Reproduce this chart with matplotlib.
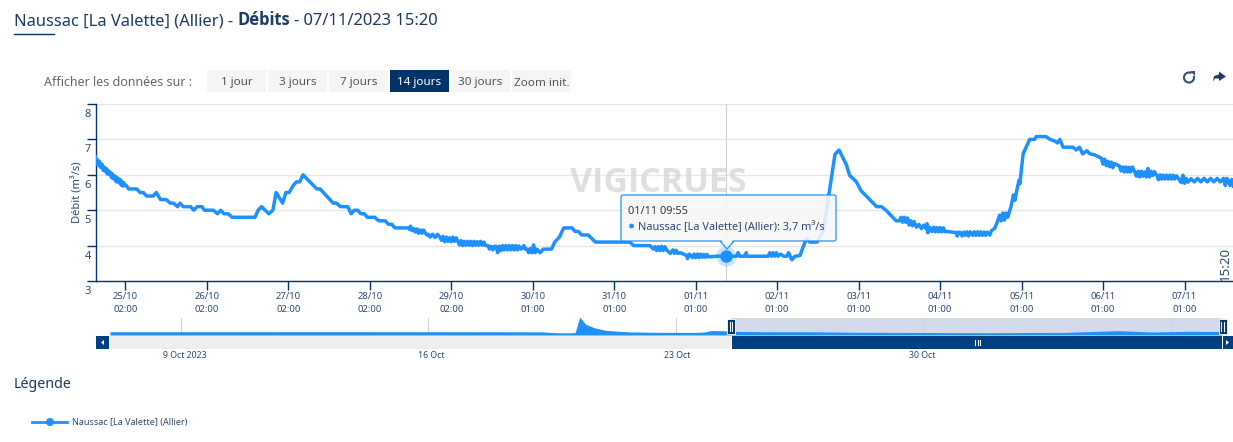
import matplotlib
matplotlib.use("Agg")
import matplotlib.pyplot as plt
from matplotlib.patches import Rectangle, FancyBboxPatch, Polygon, Circle, Arc
import matplotlib.transforms as mtrans

W, H = 1233, 442
NAVY = "#003366"
BLUE = "#1e90ff"
TXT = "#2c4a73"
BOLD = ["Open Sans", "Liberation Sans", "DejaVu Sans"]
plt.rcParams["font.family"] = ["Noto Sans", "DejaVu Sans"]

# Series: (days since 25/10 02:00, flow m3/s)
seg_recession_1 = [(-0.367,6.5),(-0.352,6.3),(-0.34,6.42),(-0.33,6.28),(-0.32,6.38),(-0.31,6.22),(-0.30,6.32),(-0.29,6.2),(-0.28,6.28),(-0.27,6.12),
    (-0.25,6.2),(-0.24,6.08),(-0.23,6.17),(-0.22,6.02),(-0.20,6.1),(-0.19,6.0),(-0.18,6.06),(-0.17,5.92),(-0.16,6.02),(-0.15,5.9),(-0.14,5.98),
    (-0.13,5.86),(-0.12,5.95),(-0.11,5.8),(-0.10,5.92),(-0.09,5.8),(-0.08,5.88),(-0.07,5.76),(-0.06,5.86),(-0.05,5.7),(-0.04,5.8),(-0.03,5.68),
    (-0.02,5.78),(-0.01,5.7),(0.01,5.7),(0.04,5.6),(0.14,5.6),(0.18,5.5),(0.22,5.5),(0.26,5.4),(0.34,5.4),(0.38,5.5),(0.43,5.3),(0.50,5.3),
    (0.55,5.2),(0.59,5.2),(0.64,5.1),(0.67,5.2),(0.71,5.1),(0.80,5.1),(0.84,5.0),(0.88,5.1),(0.94,5.1),(0.97,5.0),(1.08,5.0),(1.13,4.9),
    (1.17,5.0),(1.21,4.9),(1.26,4.9),(1.31,4.8),(1.59,4.8)]
seg_bump_27 = [(1.63,5.0),(1.67,5.1),(1.76,4.9),(1.81,5.0),(1.85,5.5),(1.93,5.2),(1.97,5.5),(2.01,5.5),(2.06,5.7),(2.10,5.8),(2.14,5.8),(2.18,6.0),
    (2.35,5.6),(2.39,5.6),(2.55,5.2),(2.59,5.2),(2.64,5.1),(2.73,5.1),(2.77,4.9),(2.81,5.0),(2.85,5.0),(2.89,4.9),(2.93,4.9),(2.97,4.8),
    (3.06,4.8),(3.11,4.7),(3.19,4.7),(3.23,4.6),(3.27,4.6),(3.31,4.5),(3.47,4.5),(3.49,4.45),(3.50,4.55),(3.52,4.42),(3.54,4.48)]
seg_jitter_28 = [(3.56,4.38),(3.58,4.47),(3.60,4.35),(3.62,4.44),(3.64,4.35),(3.66,4.44),(3.68,4.36),(3.70,4.3),(3.72,4.32),(3.74,4.24),(3.77,4.32),
    (3.80,4.23),(3.83,4.32),(3.86,4.24),(3.88,4.15),(3.90,4.26),(3.92,4.11),(3.94,4.24),(3.96,4.12),(3.98,4.22),(4.00,4.11),(4.02,4.24),(4.04,4.12),
    (4.06,4.22),(4.08,4.12),(4.10,4.02),(4.12,4.14),(4.14,4.0),(4.16,4.12),(4.18,4.01),(4.20,4.12),(4.22,4.01),(4.24,4.12),(4.26,4.0),(4.28,4.12),
    (4.30,4.01),(4.32,4.11),(4.34,4.01),(4.36,4.12),(4.38,4.01),(4.40,4.1),(4.42,4.0),(4.45,4.0),(4.47,3.9),(4.49,3.98),(4.51,3.88),(4.53,3.98),
    (4.55,3.98),(4.57,3.8),(4.59,3.98),(4.61,3.86),(4.63,4.0),(4.65,3.88),(4.67,4.0),(4.69,3.88),(4.71,4.0),(4.73,3.88),(4.75,4.0),(4.77,3.88),
    (4.79,4.0),(4.81,3.88),(4.83,3.99),(4.85,3.9),(4.87,3.92),(4.89,4.0),(4.91,3.9),(4.93,3.9),(4.95,3.8),(4.97,3.92),(4.99,3.8),(5.01,4.02),
    (5.03,3.8),(5.05,3.9),(5.09,3.8),(5.13,3.9),(5.23,3.9)]
seg_bump_30 = [(5.27,4.1),(5.33,4.25),(5.38,4.5),(5.48,4.5),(5.52,4.4),(5.56,4.4),(5.60,4.3),(5.68,4.3),(5.77,4.1),(6.19,4.1),(6.24,4.0),(6.44,4.0),
    (6.48,3.9),(6.50,3.97),(6.52,3.86),(6.54,3.97),(6.56,3.86),(6.58,3.98),(6.60,3.86),(6.62,3.97),(6.64,3.88),(6.69,3.78),(6.72,3.88),(6.74,3.78),
    (6.76,3.87),(6.78,3.78),(6.81,3.8),(6.89,3.72),(6.90,3.63),(6.92,3.76),(6.94,3.72),(6.96,3.66),(6.98,3.76),(7.0,3.66),(7.02,3.76),(7.04,3.66),
    (7.06,3.76),(7.08,3.67),(7.10,3.75),(7.12,3.67),(7.14,3.75),(7.16,3.68),(7.26,3.7),(7.371,3.7)]
seg_low_nov = [(7.50,3.7),(7.52,3.8),(7.54,3.7),(7.60,3.7),(7.62,3.8),(7.63,3.7),(7.89,3.7),(7.91,3.8),(7.93,3.7),(7.95,3.8),(7.97,3.7),(7.99,3.8),
    (8.01,3.7),(8.04,3.76),(8.08,3.7),(8.12,3.7),(8.14,3.8),(8.18,3.6),(8.22,3.7),(8.28,3.72),(8.32,3.97),(8.36,4.2),(8.40,4.1),(8.49,4.1),
    (8.57,4.43),(8.63,5.37),(8.71,6.58),(8.76,6.7),(8.85,6.28),(8.89,5.98),(8.97,5.81),(9.03,5.55),(9.22,5.1),(9.28,5.1),(9.34,4.99),(9.46,4.7),
    (9.50,4.7),(9.52,4.8),(9.54,4.66),(9.56,4.8),(9.58,4.66),(9.60,4.78)]
seg_plateau_04 = [(9.62,4.58),(9.64,4.7),(9.66,4.56),(9.68,4.68),(9.71,4.52),(9.74,4.6),(9.77,4.48),(9.80,4.58),(9.83,4.47),(9.84,4.62),(9.85,4.36),
    (9.87,4.52),(9.90,4.4),(9.92,4.52),(9.94,4.39),(9.96,4.51),(9.98,4.39),(10.0,4.51),(10.02,4.39),(10.04,4.5),(10.06,4.39),(10.08,4.4),
    (10.15,4.38),(10.20,4.37),(10.21,4.27),(10.23,4.38),(10.25,4.37),(10.27,4.27),(10.29,4.38),(10.31,4.29),(10.33,4.39),(10.35,4.27),(10.37,4.39),
    (10.40,4.29),(10.42,4.39),(10.44,4.29),(10.46,4.39),(10.48,4.29),(10.50,4.39),(10.52,4.29),(10.54,4.38),(10.56,4.29),(10.58,4.38),(10.61,4.3)]
seg_rise_05 = [(10.63,4.42),(10.67,4.49),(10.70,4.65),(10.73,4.86),(10.75,4.7),(10.77,4.92),(10.79,4.72),(10.81,4.92),(10.83,4.8),(10.87,5.1),(10.90,5.43),
    (10.92,5.28),(10.94,5.55),(10.97,5.85),(10.98,5.75),(11.0,6.2),(11.02,6.6),(11.10,7.0),(11.16,7.0),(11.18,7.08),(11.30,7.08),(11.35,7.0),
    (11.41,6.95),(11.44,6.9),(11.47,7.0),(11.51,6.78),(11.63,6.78),(11.67,6.7),(11.71,6.78),(11.75,6.59),(11.80,6.68),(11.84,6.59),(11.90,6.56),
    (11.98,6.47),(12.0,6.3),(12.02,6.44),(12.04,6.26),(12.06,6.38),(12.08,6.23),(12.10,6.36),(12.12,6.2),(12.14,6.32),(12.2,6.25)]
seg_tail = [(12.22,6.11),(12.24,6.22),(12.26,6.08),(12.28,6.22),(12.30,6.08),(12.32,6.21),(12.34,6.08),(12.36,6.22),(12.39,6.08),(12.41,5.96),(12.43,6.1),
    (12.45,5.94),(12.47,6.1),(12.49,5.96),(12.51,6.08),(12.53,5.94),(12.55,6.18),(12.57,5.94),(12.59,6.1),(12.61,5.98),(12.63,6.09),(12.66,5.98),
    (12.68,5.86),(12.70,6.0),(12.72,5.88),(12.74,5.99),(12.76,5.88),(12.78,5.99),(12.80,5.88),(12.82,5.99),(12.84,5.88),(12.86,5.99),(12.88,5.88),
    (12.90,5.97),(12.93,5.88),(12.96,5.78),(12.98,5.99),(13.0,5.76),(13.02,5.9),(13.04,5.79),(13.08,5.89),(13.12,5.8),(13.16,5.9),(13.20,5.8),
    (13.24,5.9),(13.28,5.8),(13.32,5.9),(13.36,5.8),(13.40,5.9),(13.44,5.8),(13.48,5.9),(13.50,5.7),(13.52,5.9),(13.54,5.82),(13.56,5.7),(13.58,5.87),(13.60,5.68)]

tick_days = list(range(14))
tick_dates = ["25/10","26/10","27/10","28/10","29/10","30/10","31/10","01/11","02/11","03/11","04/11","05/11","06/11","07/11"]
tick_hours = ["02:00"]*5 + ["01:00"]*9
y_ticks = [3,4,5,6,7,8]

hover_t = 7.371
hover_v = 3.7

# Navigator: (days since 9 Oct, flow m3/s)
nav_series = [(-2.0,5.5),(4,5.6),(8,5.5),(10.2,5.3),(10.6,3.8),(11.0,3.6),(11.15,4),(11.28,30),(11.45,18),(11.7,12),(12.0,8),(12.3,6.5),(12.7,5.2),
    (13.5,4.5),(14.5,4.3),(14.8,5),(15.0,7.5),(15.4,7),(15.8,6),(16.5,5.5),(18,5.3),(19,4.6),(20.5,4.3),(22.5,3.8),(23.2,3.9),(24,4.2),(25,4.4),
    (26.5,7.2),(27.5,5),(28.5,6.2),(29.44,5.8)]
nav_grid = [0,7,14,21,28]
nav_labels = ["9 Oct 2023","16 Oct","23 Oct","30 Oct"]
nav_sel = (15.56, 29.44)
buttons = ["1 jour","3 jours","7 jours","14 jours","30 jours","Zoom init."]

series = (seg_recession_1 + seg_bump_27 + seg_jitter_28 + seg_bump_30 + seg_low_nov
          + seg_plateau_04 + seg_rise_05 + seg_tail)
t_all = [p[0] for p in series]
v_all = [p[1] for p in series]

fig = plt.figure(figsize=(W/100, H/100), dpi=100, facecolor="white")
def rect(l, t, r, b):
    return [l/W, 1-b/H, (r-l)/W, (b-t)/H]

# Main chart
L, R, T, B = 95.5, 1233, 104, 281
ax = fig.add_axes(rect(L, T, R, B))
px_day = 81.47
ax.set_xlim((L-125.4)/px_day, (R-125.4)/px_day)
ax.set_ylim(3, 8)
for s in ["top","right"]:
    ax.spines[s].set_visible(False)
for s in ["left","bottom"]:
    ax.spines[s].set_color(NAVY)
    ax.spines[s].set_linewidth(1.0)
ax.yaxis.grid(True, color="#e6e6e6", lw=1.0, zorder=0)
ax.set_axisbelow(True)
ax.set_yticks(y_ticks)
ax.set_yticklabels([str(v) for v in y_ticks])
ax.tick_params(axis="y", length=6.5, width=1, color=NAVY, labelcolor=TXT, labelsize=8, pad=-3.3)
off = mtrans.ScaledTranslation(0, -5/100, fig.dpi_scale_trans)
for lab in ax.get_yticklabels():
    lab.set_va("top")
    lab.set_transform(lab.get_transform() + off)
ax.set_xticks(tick_days)
ax.set_xticklabels([f"{d}\n{h}" for d, h in zip(tick_dates, tick_hours)], linespacing=1.5)
ax.tick_params(axis="x", length=6.5, width=1, color=NAVY, labelcolor=TXT, labelsize=6.8, pad=1.5)
ax.set_ylabel("Débit (m³/s)", color=TXT, fontsize=8)
ax.yaxis.set_label_coords((84-L)/(R-L), (B-192)/(B-T))

ax.plot(t_all, v_all, color=BLUE, lw=2.5, solid_joinstyle="round", zorder=3)
ax.axvline(hover_t, color="#d0d0d0", lw=0.8, zorder=2)
ax.plot([hover_t],[hover_v], "o", ms=14.5, color=BLUE, alpha=0.25, mew=0, zorder=4)
ax.plot([hover_t],[hover_v], "o", ms=9, color=BLUE, mew=0, zorder=5)

# Navigator
NL, NR, NT, NB = 110, 1222, 318, 335
nav = fig.add_axes(rect(NL, NT, NR, NB))
nav.set_xlim(-2.0, 29.44)
nav.set_ylim(0, 28.5)
nav.axvspan(*nav_sel, color="#d2daec", lw=0, zorder=0.5)
nav.fill_between([p[0] for p in nav_series], [p[1] for p in nav_series], 0, color=BLUE, lw=0, zorder=2)
for g in nav_grid:
    nav.axvline(g, color="#d4d4d4", lw=0.8, zorder=1)
nav.set_xticks([])
nav.set_yticks([])
for s in nav.spines.values():
    s.set_visible(False)
nav.patch.set_alpha(0)

# Overlay in pixel coordinates for page furniture
ov = fig.add_axes([0,0,1,1], zorder=10)
ov.set_xlim(0, W)
ov.set_ylim(H, 0)
ov.axis("off")
ov.patch.set_alpha(0)

# Title
tc = "#1f3a63"
t1 = ov.text(14, 25, "Naussac [La Valette] (Allier) -", fontsize=11.9, color=tc, va="baseline")
fig.canvas.draw()
r = fig.canvas.get_renderer()
x = t1.get_window_extent(r).x1
t2 = ov.text(x+4, 25, "Débits", fontsize=11.9, color=tc, va="baseline", fontweight="bold", family=BOLD)
x = t2.get_window_extent(r).x1
ov.text(x+4, 25, "- 07/11/2023 15:20", fontsize=11.9, color=tc, va="baseline")
ov.plot([14,54],[34,34], color=NAVY, lw=1)

# Range selector
ov.text(44, 86, "Afficher les données sur :", fontsize=9, color="#666666", va="baseline")
bx = [207,268,329,390,451,512]
bw = [59,59,59,59,59,59]
for b, x0, w in zip(buttons, bx, bw):
    sel = b == "14 jours"
    ov.add_patch(Rectangle((x0,70), w, 22, fc=NAVY if sel else "#f5f5f5", ec="none"))
    ov.text(x0+w/2, 85.5, b, fontsize=8.4, color="white" if sel else "#555555", ha="center", va="baseline")

# Toolbar icons
ov.add_patch(Arc((1189,77.5), 10, 10, theta1=-20, theta2=300, color="#34507a", lw=1.5))
ov.add_patch(Polygon([(1190,71),(1195,71),(1195,76)], fc="#34507a", ec="none"))
ov.add_patch(Polygon([(1219,71.5),(1226,76.5),(1219,81),(1219,78.5),(1215,78.5),(1213,81.5),(1214,76),(1219,74.5)], fc="#1f3a63", ec="none"))

# Watermark
ov.text(658, 183, "VIGICRUES", fontsize=24.5, fontweight="bold", family=BOLD, color="#d8d8d8", alpha=0.8, ha="center", va="center", zorder=-1)

# Tooltip
ov.add_patch(Polygon([(720,241),(727,249),(734,241)], fc="#f7f7f7", ec=BLUE, lw=1, alpha=0.9, zorder=5))
ov.add_patch(FancyBboxPatch((621,195), 215, 46, boxstyle="round,pad=0,rounding_size=2", fc="#f7f7f7", ec=BLUE, lw=1, alpha=0.88, zorder=6))
ov.add_patch(Polygon([(721,240),(727,247),(733,240)], fc="#f7f7f7", ec="none", zorder=7))
ov.text(628, 211, "01/11 09:55", fontsize=7.9, color="#333333", va="center", zorder=8)
ov.add_patch(Circle((631.5,226), 2.4, fc=BLUE, ec="none", zorder=8))
ov.text(638, 227, "Naussac [La Valette] (Allier): 3,7 m³/s", fontsize=7.9, color=TXT, va="center", zorder=8)

# Last update label
ov.text(1225, 281, "15:20", rotation=90, fontsize=9.6, color=TXT, ha="center", va="bottom")

# Navigator chrome
ov.add_patch(Rectangle((110,336), 621, 13, fc="#eeeeee", ec="none"))
ov.add_patch(Rectangle((732,336), 490, 13, fc="#003f80", ec="none"))
for xx in [975,977.5,980]:
    ov.plot([xx,xx],[340,345], color="white", lw=0.8, zorder=4)
for x0, x1, pts in [(96,109,[(104,340),(104,345),(101,342.5)]), (1223,1233,[(1226,340),(1226,345),(1229,342.5)])]:
    ov.add_patch(Rectangle((x0,336), x1-x0, 13, fc="#003f80", ec="none"))
    ov.add_patch(Polygon(pts, fc="white", ec="none"))
for xh in [731,1222.5]:
    ov.add_patch(Rectangle((xh-4,318.5), 8, 15, fc=NAVY, ec="white", lw=0.6, zorder=5))
    for dx in [-1.3,1.3]:
        ov.plot([xh+dx,xh+dx],[321.5,330.5], color="white", lw=0.8, zorder=6)
for lab, xx in zip(nav_labels, [185,431,677,922]):
    ov.text(xx, 355, lab, fontsize=6.3, color=TXT, ha="center", va="center")

# Legend
ov.text(14, 385, "Légende", fontsize=10.3, color=tc, va="center")
ov.plot([32,67],[422,422], color=BLUE, lw=2)
ov.add_patch(Circle((50,422), 4, fc=BLUE, ec="none", zorder=3))
ov.text(72, 422.5, "Naussac [La Valette] (Allier)", fontsize=6.5, color=TXT, va="center")

fig.savefig("out.png", dpi=100, facecolor="white")
